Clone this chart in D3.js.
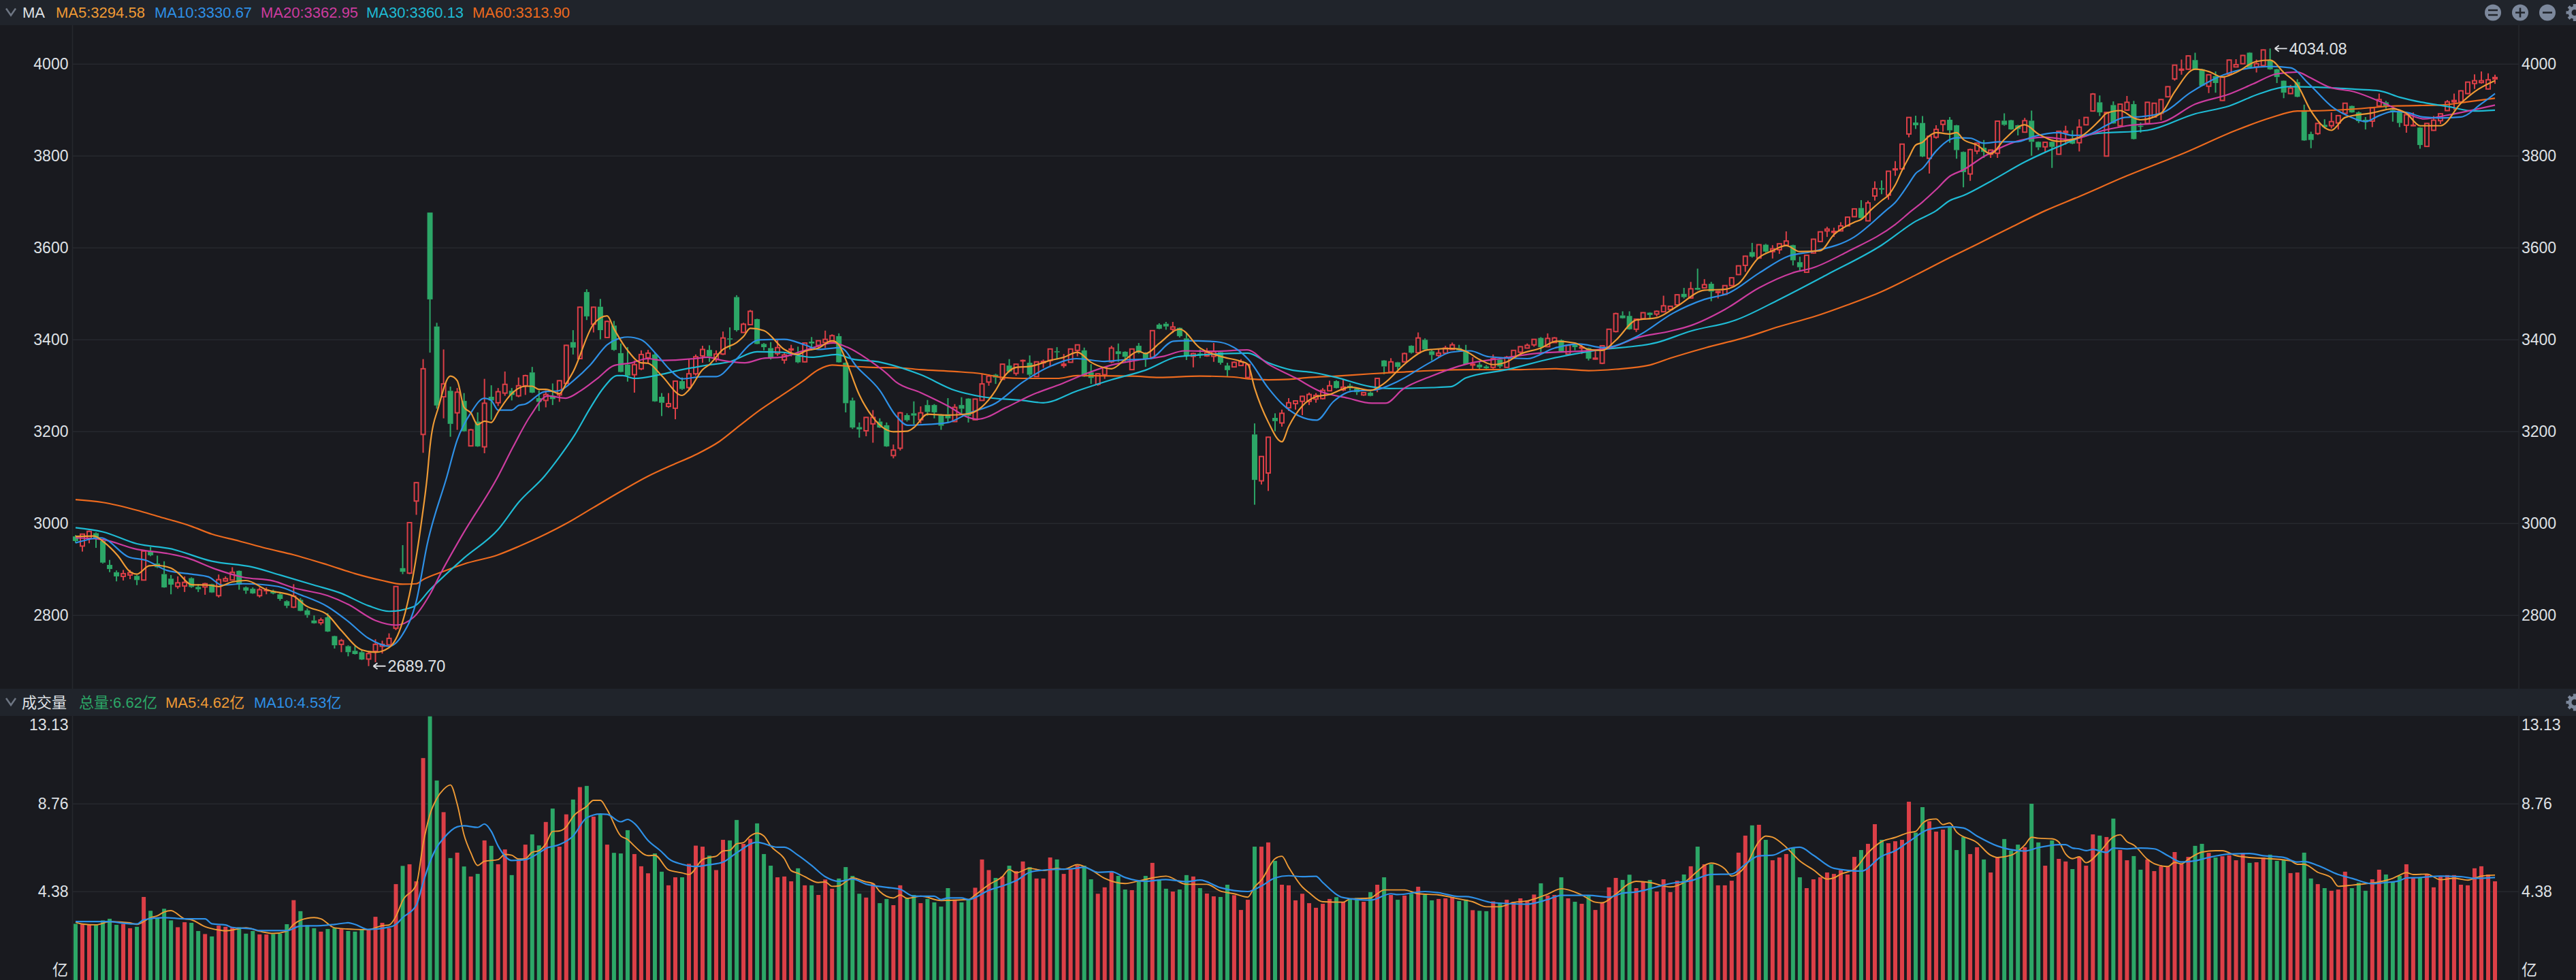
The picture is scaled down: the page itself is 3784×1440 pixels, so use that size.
<!DOCTYPE html>
<html><head><meta charset="utf-8"><title>K线</title>
<script src="https://cdn.jsdelivr.net/npm/d3@7/dist/d3.min.js"></script>
<style>
html,body{margin:0;padding:0;background:#191a1f;overflow:hidden}
svg{display:block}
text{font-family:"Liberation Sans","Noto Sans CJK SC",sans-serif}
</style></head><body>
<svg id="c" width="3784" height="1440"></svg>
<script>
const opens=[
2972,2951,2968,2979,2962,2910,2894,2885,2888,2886,
2877,2940,2913,2890,2880,2863,2864,2881,2862,2862,
2868,2843,2875,2877,2897,2861,2858,2843,2854,2853,
2846,2831,2818,2834,2811,2789,2784,2796,2755,2737,
2733,2723,2720,2705,2722,2733,2736,2772,2903,2892,
3049,3194,3677,3429,3276,3289,3241,3267,3169,3222,
3167,3276,3263,3284,3289,3278,3300,3329,3273,3268,
3278,3280,3305,3395,3359,3504,3434,3472,3405,3431,
3371,3346,3324,3337,3361,3368,3276,3255,3251,3310,
3296,3326,3365,3378,3357,3369,3403,3493,3416,3433,
3445,3391,3382,3370,3356,3378,3365,3352,3396,3388,
3394,3395,3408,3350,3268,3210,3202,3217,3222,3214,
3148,3164,3236,3240,3226,3258,3258,3236,3238,3222,
3258,3272,3226,3268,3308,3324,3314,3344,3327,3354,
3350,3320,3350,3355,3375,3344,3351,3377,3377,3329,
3303,3324,3352,3375,3374,3335,3387,3372,3362,3433,
3435,3423,3426,3403,3364,3370,3365,3364,3373,3344,
3341,3344,3318,3194,3093,3110,3230,3219,3252,3261,
3266,3266,3271,3272,3289,3310,3291,3300,3294,3280,
3285,3295,3355,3330,3351,3352,3387,3372,3400,3375,
3366,3371,3379,3382,3375,3345,3346,3342,3340,3357,
3340,3363,3373,3382,3389,3404,3385,3394,3399,3369,
3389,3382,3382,3358,3349,3384,3418,3453,3452,3423,
3446,3459,3456,3461,3466,3476,3500,3491,3513,3513,
3522,3503,3499,3518,3542,3562,3591,3578,3607,3592,
3596,3606,3606,3569,3547,3589,3614,3637,3634,3637,
3648,3668,3687,3659,3713,3730,3715,3770,3772,3848,
3873,3872,3795,3841,3869,3879,3867,3809,3761,3811,
3818,3804,3806,3877,3878,3867,3852,3877,3831,3820,
3831,3804,3851,3838,3829,3868,3898,3917,3800,3911,
3866,3900,3913,3866,3871,3885,3893,3929,3968,3987,
3989,4009,3989,3952,3974,3921,3978,3994,4001,4025,
3994,3997,4009,3989,3964,3936,3961,3900,3848,3849,
3868,3866,3872,3893,3909,3895,3879,3876,3909,3917,
3900,3898,3867,3866,3862,3821,3856,3877,3899,3918,
3918,3936,3958,3960,3946,3968];
const closes=[
2962,2977,2983,2967,2915,2901,2885,2891,2893,2877,
2940,2931,2905,2861,2867,2871,2872,2862,2857,2869,
2850,2878,2880,2894,2867,2854,2848,2856,2855,2848,
2836,2821,2842,2810,2801,2783,2790,2765,2735,2745,
2720,2716,2704,2717,2737,2737,2750,2863,2895,3002,
3089,3337,3488,3257,3304,3217,3286,3201,3204,3168,
3262,3268,3287,3303,3280,3300,3322,3285,3265,3281,
3271,3311,3388,3383,3471,3451,3471,3421,3440,3378,
3330,3322,3346,3368,3371,3266,3263,3261,3310,3293,
3326,3363,3379,3364,3369,3404,3401,3421,3434,3462,
3391,3384,3360,3383,3367,3380,3351,3393,3392,3398,
3401,3409,3351,3262,3209,3205,3231,3231,3209,3168,
3160,3241,3225,3235,3241,3243,3242,3213,3229,3253,
3250,3235,3271,3304,3321,3318,3347,3331,3347,3355,
3324,3352,3353,3380,3373,3347,3380,3389,3320,3317,
3326,3340,3382,3369,3363,3380,3372,3358,3420,3424,
3429,3428,3408,3366,3370,3368,3372,3374,3350,3334,
3351,3352,3346,3095,3146,3188,3223,3240,3263,3267,
3277,3281,3279,3290,3300,3295,3297,3295,3286,3285,
3278,3316,3342,3352,3341,3370,3372,3404,3379,3367,
3371,3382,3389,3377,3347,3347,3340,3338,3359,3342,
3362,3377,3385,3388,3401,3384,3403,3404,3375,3388,
3384,3384,3359,3360,3387,3423,3457,3447,3423,3445,
3459,3454,3462,3474,3473,3498,3493,3511,3509,3520,
3505,3505,3518,3535,3561,3582,3581,3607,3592,3598,
3609,3615,3573,3558,3584,3619,3635,3641,3636,3648,
3667,3685,3665,3698,3729,3727,3767,3772,3826,3884,
3867,3799,3843,3858,3877,3856,3813,3765,3814,3828,
3809,3813,3876,3868,3858,3859,3877,3831,3819,3830,
3820,3854,3854,3827,3863,3884,3935,3895,3895,3871,
3913,3917,3837,3865,3917,3915,3923,3951,3998,3989,
4018,3988,3953,3977,3959,3972,4009,3999,4019,3992,
4001,4031,3989,3972,3938,3948,3929,3834,3835,3871,
3863,3875,3888,3915,3895,3876,3874,3905,3923,3909,
3899,3872,3890,3867,3824,3871,3878,3892,3918,3921,
3942,3961,3964,3964,3966,3971];
const highs=[
2975,2978,2985,2981,2965,2921,2898,2899,2899,2888,
2942,2949,2930,2918,2888,2885,2885,2883,2868,2871,
2869,2889,2885,2905,2898,2863,2861,2861,2861,2856,
2851,2833,2868,2838,2815,2800,2795,2805,2756,2749,
2735,2735,2725,2722,2748,2745,2761,2864,2953,3003,
3090,3358,3677,3437,3379,3298,3295,3284,3206,3242,
3315,3301,3295,3331,3295,3318,3324,3341,3290,3290,
3305,3312,3389,3421,3472,3510,3472,3489,3442,3441,
3392,3384,3355,3377,3378,3372,3284,3284,3311,3318,
3359,3368,3387,3388,3377,3418,3427,3497,3437,3465,
3446,3393,3395,3399,3372,3389,3385,3394,3406,3399,
3420,3412,3414,3351,3274,3220,3232,3247,3229,3220,
3172,3243,3240,3266,3255,3269,3260,3238,3273,3260,
3275,3273,3272,3325,3325,3326,3348,3358,3348,3357,
3366,3353,3357,3381,3384,3369,3381,3390,3383,3347,
3327,3341,3387,3392,3375,3381,3393,3373,3421,3436,
3439,3439,3427,3415,3372,3379,3382,3393,3375,3350,
3353,3358,3347,3218,3147,3189,3240,3248,3273,3268,
3278,3285,3284,3295,3311,3312,3313,3305,3295,3286,
3287,3317,3356,3360,3352,3372,3388,3416,3403,3378,
3380,3387,3394,3389,3389,3362,3352,3345,3368,3358,
3365,3378,3386,3392,3402,3406,3414,3406,3401,3389,
3393,3389,3383,3377,3388,3424,3459,3462,3462,3446,
3460,3460,3464,3496,3474,3499,3513,3526,3555,3532,
3526,3506,3519,3536,3562,3583,3611,3608,3609,3606,
3610,3636,3607,3581,3585,3620,3636,3646,3644,3656,
3668,3686,3704,3703,3745,3747,3768,3789,3827,3885,
3888,3887,3844,3867,3879,3885,3868,3810,3816,3829,
3835,3814,3877,3893,3879,3868,3883,3899,3832,3831,
3832,3855,3866,3856,3880,3885,3937,3932,3896,3919,
3914,3931,3920,3873,3918,3916,3924,3952,3999,4010,
4019,4025,3990,3978,3984,3973,4010,4011,4020,4026,
4010,4032,4034.08,3990,3965,3955,3967,3912,3853,3872,
3880,3895,3889,3916,3910,3897,3885,3906,3936,3920,
3903,3899,3891,3895,3863,3872,3887,3893,3922,3936,
3943,3962,3978,3984,3980,3977];
const lows=[
2958,2939,2957,2947,2913,2894,2874,2876,2879,2866,
2876,2929,2903,2860,2846,2858,2851,2860,2851,2845,
2849,2839,2873,2876,2856,2847,2847,2839,2846,2846,
2832,2816,2816,2809,2795,2782,2779,2764,2728,2720,
2711,2715,2703,2689.7,2698,2717,2735,2768,2890,2890,
3019,3154,3372,3250,3229,3189,3204,3200,3168,3167,
3153,3226,3256,3278,3268,3275,3280,3284,3245,3253,
3258,3265,3304,3368,3358,3443,3416,3401,3404,3376,
3329,3309,3285,3334,3350,3265,3234,3252,3227,3291,
3290,3322,3350,3352,3352,3367,3379,3418,3415,3432,
3390,3377,3357,3365,3348,3364,3349,3351,3377,3379,
3382,3394,3350,3242,3206,3187,3190,3176,3208,3167,
3142,3159,3222,3216,3218,3235,3229,3204,3220,3221,
3236,3220,3225,3267,3300,3304,3313,3329,3322,3327,
3320,3319,3339,3341,3357,3339,3350,3364,3319,3304,
3300,3315,3349,3352,3350,3334,3370,3341,3361,3423,
3422,3415,3405,3356,3340,3360,3363,3352,3346,3320,
3340,3343,3317,3041,3085,3071,3201,3211,3245,3248,
3236,3258,3263,3270,3288,3294,3288,3290,3280,3278,
3277,3286,3325,3329,3335,3351,3370,3371,3378,3355,
3362,3370,3378,3375,3346,3335,3335,3336,3337,3338,
3339,3362,3365,3381,3385,3373,3384,3393,3373,3365,
3377,3369,3355,3357,3347,3383,3416,3446,3422,3417,
3445,3448,3451,3460,3465,3475,3490,3490,3508,3512,
3484,3490,3498,3517,3541,3548,3579,3577,3590,3577,
3587,3605,3562,3550,3546,3588,3613,3624,3624,3636,
3647,3667,3664,3658,3703,3717,3705,3757,3771,3841,
3859,3798,3762,3838,3853,3829,3794,3732,3746,3804,
3796,3796,3796,3866,3857,3845,3851,3801,3813,3808,
3774,3803,3825,3826,3810,3867,3897,3887,3799,3870,
3865,3899,3836,3851,3870,3884,3878,3928,3964,3977,
3988,3987,3952,3937,3938,3920,3977,3993,4000,3990,
3982,3996,3988,3959,3926,3935,3928,3833,3817,3846,
3860,3860,3858,3892,3894,3872,3858,3863,3908,3903,
3875,3863,3851,3865,3816,3820,3855,3870,3898,3900,
3917,3935,3946,3958,3945,3957];
const volumes=[
2.78,2.75,2.75,2.72,2.95,3.03,2.73,2.77,2.56,2.63,
4.12,3.43,3.09,3.53,2.95,2.61,2.86,2.83,2.42,2.27,
2.15,2.69,2.63,2.60,2.61,2.29,2.42,2.25,2.25,2.27,
2.29,2.76,3.96,3.41,2.72,2.56,2.39,2.52,2.56,2.52,
2.42,2.39,2.49,2.47,3.13,2.83,2.56,4.76,5.67,5.75,
4.90,11.05,13.13,9.93,8.35,6.06,6.33,5.64,5.14,5.27,
6.94,6.67,5.75,6.49,5.21,5.98,6.73,7.24,6.69,7.86,
8.53,6.63,8.24,8.98,9.60,9.66,8.13,8.24,6.73,6.32,
6.29,7.45,6.26,5.65,5.30,6.29,5.38,4.70,5.10,5.10,
5.77,6.68,6.63,6.18,5.46,6.97,6.94,7.96,6.77,7.02,
7.79,6.26,5.68,5.10,5.14,4.90,5.55,4.70,4.70,4.22,
4.99,4.53,5.04,5.61,5.17,4.28,4.09,4.79,3.81,4.02,
3.71,4.70,4.07,4.22,3.81,4.02,3.85,3.64,4.56,3.99,
3.85,4.02,4.58,5.99,5.46,5.07,5.14,5.68,5.41,5.89,
5.61,5.04,5.04,6.09,5.99,5.27,5.50,5.69,5.68,5.00,
4.28,4.60,5.41,5.17,4.49,4.46,4.90,5.17,5.82,5.00,
4.53,4.39,4.49,5.21,5.14,4.56,4.29,4.15,4.12,4.73,
4.21,3.47,3.98,6.63,6.63,6.84,5.92,4.73,4.70,3.95,
4.28,3.81,3.58,3.78,4.02,4.11,3.88,4.05,4.07,3.88,
4.36,4.73,5.10,4.22,3.98,4.19,4.28,4.63,4.22,3.95,
4.02,4.05,4.11,3.92,3.99,3.46,3.43,3.41,3.90,3.83,
3.98,3.88,4.05,3.94,4.24,4.80,4.19,4.22,5.10,4.05,
3.88,3.78,4.22,3.47,3.83,4.60,5.07,4.97,5.23,4.56,
4.90,4.97,4.39,5.00,4.36,4.93,5.24,5.65,6.63,5.75,
5.75,4.70,4.70,4.93,6.33,7.18,7.69,7.72,6.97,5.95,
6.09,6.26,6.56,5.10,4.56,5.00,5.10,5.34,5.27,5.46,
5.24,6.12,6.46,6.77,7.75,6.97,6.80,6.90,6.97,8.87,
7.33,8.60,7.90,7.38,7.48,7.65,6.46,7.11,6.26,6.60,
5.99,5.34,6.09,7.01,6.43,6.73,6.60,8.77,6.84,5.68,
6.94,6.02,5.89,5.51,6.09,5.68,7.24,7.18,7.11,8.03,
6.46,5.95,6.16,5.48,5.99,5.41,5.65,5.64,6.36,5.75,
6.12,6.67,6.77,6.32,6.09,6.15,6.20,5.95,6.32,5.82,
5.85,6.09,6.23,5.92,5.98,5.31,5.34,6.33,5.04,4.76,
4.56,4.43,4.49,5.38,4.56,4.83,4.43,5.00,5.48,5.24,
4.90,5.18,5.75,5.07,5.10,5.24,4.60,5.13,5.21,5.21,
4.73,4.70,5.55,5.65,5.24,4.90];
// days whose volume bar is red although the candle body closed lower
const volumeRedOverride=[326];

// moving averages as [day, value]
const ma5=[[0,2972],[2.7,2973],[4.2,2959],[6.2,2930],[8,2895],[9,2890],[10.8,2908],[11.8,2909],[14,2903],[15,2893],[17,2867],[19.5,2866],[21,2863],[23,2873],[25,2876],[28,2856],[32,2842],[33.8,2821],[37,2801],[39,2767],[42,2725],[44,2720],[46,2730],[48,2787],[49.3,2868],[50.8,3009],[51.6,3103],[52,3167],[53.3,3256],[55,3321],[56,3311],[57,3253],[58,3241],[59,3215],[60,3223],[61,3220],[62,3243],[64,3283],[66,3299],[67,3299],[68,3292],[69,3292],[71,3283],[72,3305],[73,3330],[76,3434],[78,3452],[79,3424],[81,3377],[83,3350],[84,3349],[86,3322],[89,3279],[90,3291],[92,3335],[93,3346],[95,3379],[97,3394],[98,3407],[99,3425],[101,3420],[104,3379],[106,3368],[107,3375],[109,3382],[111,3398],[112,3389],[113,3357],[115,3280],[117,3231],[120,3200],[122,3201],[123,3209],[125,3238],[128,3236],[131,3239],[135,3290],[136,3315],[138,3340],[140,3342],[143,3355],[145,3362],[147,3373],[149,3351],[151,3339],[152,3337],[154,3357],[156,3375],[157,3370],[159,3392],[162,3423],[165,3382],[168,3364],[171,3353],[172,3347],[173,3295],[175,3221],[177,3178],[178,3211],[180,3256],[182,3276],[184,3281],[187,3297],[190,3290],[192,3305],[195,3347],[198,3377],[199,3379],[202,3381],[204,3375],[206,3357],[208,3346],[210,3352],[212,3369],[215,3382],[217.3,3397],[220,3393],[222,3379],[224,3377],[226,3399],[229,3443],[232,3448],[235,3473],[239,3508],[242,3510],[244,3522],[247,3579],[249,3594],[251,3605],[253,3592],[256,3594],[258,3629],[261,3656],[262,3662],[263.6,3685],[265,3703],[266,3715],[267,3737],[268,3769],[269,3797],[270,3824],[271,3830],[272,3844],[273,3851],[275,3848],[276,3851],[277,3836],[279,3824],[281,3805],[283,3836],[286,3868],[288,3848],[291,3832],[294,3841],[297,3878],[298,3893],[300,3899],[302,3883],[303,3879],[306,3893],[308,3940],[311,3989],[313,3984],[315,3972],[317,3982],[320,4006],[322,4009],[324,3982],[326,3955],[328,3898],[331,3856],[333,3884],[337,3894],[340,3903],[342,3893],[344,3866],[347,3866],[350,3915],[352,3940],[355,3964]];
const ma10=[[0,2958],[3.7,2969],[7.8,2927],[10.3,2920],[13.4,2898],[17,2890],[19.5,2884],[21.5,2866],[24.6,2869],[29.7,2863],[32.8,2846],[37,2819],[40,2787],[43,2750],[46,2733],[48,2759],[50,2831],[51.6,2955],[54.5,3103],[56,3182],[58,3241],[60,3273],[61,3268],[62,3247],[64,3247],[65,3257],[66,3260],[68.8,3287],[70.9,3289],[73.2,3313],[75.5,3345],[78,3389],[80,3404],[81,3406],[83,3400],[85.2,3369],[87.2,3335],[89,3315],[92,3320],[94,3320],[96.9,3357],[98.9,3389],[100.2,3400],[104,3401],[107,3389],[109,3379],[112.2,3383],[114.7,3340],[118,3290],[120.3,3236],[122.1,3214],[124,3215],[128,3220],[131,3240],[135,3262],[139,3308],[143.3,3344],[146.9,3359],[151,3353],[153.5,3356],[157.6,3359],[161.1,3397],[162.7,3398],[167.3,3396],[172.1,3357],[175,3295],[177,3261],[182.1,3225],[184.6,3266],[187.2,3288],[190.7,3291],[193.8,3308],[198.8,3351],[201.8,3373],[204.6,3376],[207.4,3363],[213,3359],[217,3382],[220.6,3391],[224.2,3383],[229.3,3409],[234.4,3458],[239,3488],[242.6,3502],[247,3545],[251.3,3582],[254.8,3592],[261,3624],[265.6,3681],[267,3699],[269,3740],[270,3762],[271,3773],[273,3811],[275,3836],[276,3840],[278,3839],[280,3828],[282.3,3831],[284.8,3831],[287.4,3843],[291,3851],[293,3845],[295,3846],[298,3867],[300.6,3884],[303.2,3886],[306.3,3895],[310.3,3938],[314.4,3972],[318,3989],[322,3995],[325,3992],[327.7,3957],[331.3,3905],[333.8,3885],[336,3875],[338,3888],[340,3897],[342,3895],[344.4,3885],[347,3883],[350,3885],[353,3914],[355,3936]];
const ma20=[[0,2969],[4,2965],[9,2944],[13.4,2935],[16.4,2925],[20.5,2901],[24.6,2883],[29,2875],[32,2860],[37,2843],[40,2824],[44,2789],[47,2779],[49.6,2796],[52,2846],[53.7,2895],[56.7,2974],[62,3103],[64.2,3167],[66.8,3236],[69.3,3278],[71.9,3273],[74,3288],[76.5,3315],[79,3344],[81.6,3350],[83.9,3359],[86.2,3355],[90.8,3359],[92.8,3362],[94.9,3355],[98.2,3350],[101,3360],[103.5,3362],[106.6,3375],[111.2,3393],[113.2,3384],[116.3,3357],[119,3327],[120.4,3308],[124,3285],[128,3256],[131,3231],[132.3,3227],[136.6,3253],[140,3278],[144.8,3305],[148.4,3327],[152,3345],[155.5,3355],[159.6,3364],[162.7,3376],[167.3,3375],[171.9,3378],[175,3347],[179,3317],[182.6,3288],[186.7,3273],[190.2,3262],[192.2,3262],[194.8,3293],[198.8,3320],[204,3347],[209,3359],[215.5,3372],[220.6,3375],[225,3382],[229,3404],[234,3419],[237,3431],[242,3466],[247,3513],[251.8,3545],[255,3557],[260,3592],[267,3651],[269.4,3681],[271,3700],[273,3727],[275,3756],[277,3770],[280,3799],[285.3,3834],[289,3841],[292.5,3836],[297.6,3856],[301,3866],[306,3873],[311,3913],[316,3935],[319.5,3957],[323,3979],[326,3983],[327.7,3972],[330.7,3950],[334.3,3940],[338.4,3917],[342,3893],[344.6,3881],[348,3889],[352,3901],[355,3911]];
const ma30=[[0,2991],[4,2982],[9,2956],[14,2945],[20,2918],[26,2905],[30,2888],[35,2866],[39,2848],[43,2821],[46,2809],[49.6,2819],[52,2856],[57,2925],[62,2987],[65,3046],[68.8,3103],[71,3145],[73.2,3192],[75.5,3251],[77.5,3296],[79.5,3322],[80.3,3322],[82,3316],[85.7,3324],[89,3335],[92.8,3345],[95.9,3352],[100,3374],[103.5,3373],[108,3362],[111.7,3368],[114,3358],[117.8,3352],[119,3348],[124,3324],[129,3290],[133,3276],[139,3268],[142,3263],[147,3289],[152,3313],[157,3334],[161.7,3363],[165,3367],[172,3371],[175,3350],[178.5,3334],[181.5,3329],[185,3318],[190,3298],[192.8,3294],[199,3296],[201.8,3298],[204,3317],[210,3335],[216.5,3359],[223,3377],[232,3394],[237,3419],[243.6,3443],[250,3488],[257,3542],[265,3606],[270,3658],[273,3681],[275,3703],[277,3714],[281,3745],[286,3787],[291,3821],[296,3848],[304,3856],[311,3892],[316,3909],[320.5,3936],[324.6,3951],[329,3950],[335,3945],[338,3942],[341,3928],[345,3915],[348,3908],[352,3898],[355,3900]];
const ma60=[[0,3052],[4,3046],[9,3029],[12,3016],[17,2994],[20,2977],[24,2962],[28,2946],[32,2932],[37,2910],[41,2891],[45,2876],[48,2868],[50,2869],[51,2878],[54,2896],[57,2912],[62,2932],[65,2950],[69,2977],[72,3000],[76,3035],[80,3070],[84,3103],[87.5,3127],[91,3150],[94.5,3179],[97.5,3214],[100.5,3248],[103,3273],[106.7,3310],[109,3335],[111,3345],[113,3343],[117,3340],[121,3339],[124,3335],[129,3331],[133,3326],[136,3318],[139,3316],[144,3316],[147,3322],[155,3321],[159,3318],[165,3321],[170,3319],[172,3315],[175,3313],[178,3314],[181,3318],[185,3321],[190,3326],[195,3330],[199,3333],[205,3335],[211.5,3335],[217,3337],[222,3333],[226,3336],[231,3345],[234,3360],[239,3382],[245,3405],[250,3429],[255,3450],[260,3476],[265,3505],[270,3541],[275,3579],[279,3608],[284,3645],[289,3681],[294,3712],[301,3757],[309.3,3806],[317,3856],[322,3883],[326,3898],[330,3899],[335,3903],[340,3909],[347,3911],[351,3918],[355,3926]];
const volMa5=[[0,2.86],[1,2.77],[3,2.73],[5,2.89],[8,2.83],[9,2.75],[11,3.09],[12,3.18],[13,3.37],[14,3.44],[16,3.03],[17,2.98],[19,2.64],[21,2.47],[22,2.43],[25,2.58],[27,2.41],[29,2.30],[31,2.41],[32,2.75],[33,2.96],[35,3.09],[36,3.03],[38,2.58],[41,2.50],[43,2.49],[45,2.69],[46,2.72],[47,3.15],[48,3.94],[50,4.73],[51,6.77],[52,8.24],[53,9.03],[54,9.49],[55,9.71],[56,8.75],[57,7.22],[58,6.32],[59,5.69],[60,5.90],[62,5.98],[63,6.24],[64,6.20],[65,6.01],[66,6.03],[67,6.35],[68,6.43],[69,6.77],[70,7.39],[71,7.41],[72,7.62],[73,8.13],[75,8.64],[76,8.94],[77,8.94],[78,8.47],[80,7.16],[81,6.99],[82,6.66],[84,6.18],[85,6.20],[87,5.47],[89,5.32],[90,5.24],[92,5.98],[93,6.09],[94,6.15],[95,6.41],[96,6.45],[97,6.77],[98,6.83],[99,7.16],[100,7.30],[101,7.16],[102,6.66],[104,6.03],[105,5.43],[106,5.30],[107,5.13],[109,4.84],[110,4.87],[111,4.65],[112,4.67],[114,5.07],[116,4.87],[117,4.79],[118,4.39],[120,4.07],[121,4.22],[122,4.05],[124,4.16],[127,3.94],[131,3.99],[132,4.22],[134,4.73],[136,5.14],[137,5.49],[138,5.32],[140,5.55],[142,5.44],[144,5.55],[145,5.50],[147,5.73],[149,5.47],[151,5.05],[154,4.79],[156,4.92],[158,5.07],[160,5.16],[163,4.75],[166,4.75],[168,4.41],[170,4.28],[172,4.11],[173,4.62],[174,4.96],[176,6.03],[177,6.15],[178,5.60],[180,4.62],[181,4.33],[183,3.88],[186,3.86],[187,4.02],[190,4.07],[191,4.28],[192,4.47],[195,4.47],[197,4.28],[200,4.22],[203,4.02],[205,3.88],[207,3.63],[209,3.63],[211,3.85],[213,3.92],[216,4.26],[218,4.53],[221,4.22],[223,3.86],[224,3.83],[226,4.26],[228,4.79],[229,4.90],[231,4.84],[234,4.62],[236,4.84],[238,5.41],[239,5.69],[240,5.81],[242,5.52],[243,5.16],[244,5.30],[245,5.64],[247,6.88],[248,7.16],[249,7.10],[251,6.60],[253,5.92],[255,5.47],[257,5.01],[258,5.07],[259,5.26],[261,5.50],[263,6.32],[265,6.88],[267,7.09],[269,7.33],[270,7.39],[271,7.79],[272,7.98],[273,8.01],[274,7.73],[275,7.81],[276,7.36],[279,6.83],[281,6.20],[282,6.09],[284,6.20],[286,6.71],[287,7.10],[288,7.05],[290,7.02],[291,6.86],[292,6.26],[293,6.03],[294,6.12],[295,5.83],[297,6.37],[299,7.11],[300,7.22],[301,6.88],[302,6.71],[304,6.00],[305,5.78],[307,5.64],[308,5.84],[309,5.77],[310,6.00],[312,6.36],[314,6.43],[315,6.43],[317,6.18],[319,6.09],[322,6.03],[325,5.92],[326,5.75],[327,5.75],[329,5.35],[331,5.07],[332,4.65],[334,4.71],[336,4.78],[338,4.87],[340,5.05],[341,5.21],[342,5.33],[343,5.24],[345,5.26],[347,4.98],[349,5.05],[351,4.96],[353,5.16],[355,5.21]];
const volMa10=[[0,2.89],[5,2.89],[7,2.81],[9,2.77],[10,2.98],[13,3.09],[16,3.03],[19,3.03],[20,2.78],[22,2.72],[23,2.60],[26,2.52],[27,2.44],[31,2.44],[33,2.67],[36,2.69],[38,2.75],[40,2.83],[41,2.75],[43,2.50],[46,2.61],[47,2.75],[48,3.09],[50,3.71],[51,4.84],[52,5.86],[53,6.60],[54,7.05],[56,7.62],[57,7.67],[59,7.59],[60,7.76],[61,7.39],[62,6.66],[64,5.94],[66,5.98],[68,6.32],[69,6.54],[71,6.73],[73,7.16],[75,8.07],[77,8.26],[78,8.24],[80,7.87],[81,7.99],[82,7.79],[84,6.94],[86,6.37],[87,6.03],[89,5.75],[91,5.64],[93,5.73],[95,5.86],[97,6.32],[100,6.85],[103,6.60],[104,6.60],[106,6.20],[108,5.69],[110,5.13],[112,4.90],[114,5.01],[116,4.76],[119,4.60],[121,4.50],[123,4.16],[126,4.16],[127,3.99],[128,4.07],[130,4.07],[131,3.99],[134,4.45],[136,4.67],[138,4.93],[140,5.35],[142,5.46],[144,5.50],[146,5.52],[148,5.60],[150,5.35],[152,5.38],[154,5.09],[157,4.90],[160,4.99],[163,4.88],[165,4.96],[168,4.58],[172,4.39],[174,4.67],[176,5.07],[178,5.18],[180,5.13],[182,5.15],[183,4.84],[186,4.09],[190,3.96],[193,4.28],[194,4.24],[198,4.39],[200,4.33],[203,4.14],[204,4.14],[208,3.83],[213,3.76],[216,3.99],[218,4.20],[222,4.20],[225,4.11],[227,4.31],[229,4.37],[232,4.62],[234,4.79],[237,4.93],[240,5.24],[243,5.26],[245,5.75],[247,6.17],[249,6.20],[251,6.49],[253,6.60],[255,6.20],[258,5.55],[262,5.41],[265,6.15],[267,6.43],[269,6.88],[272,7.50],[275,7.62],[277,7.56],[279,7.16],[282,6.66],[286,6.41],[288,6.58],[291,6.73],[292,6.73],[293,6.56],[294,6.52],[295,6.43],[296,6.49],[298,6.34],[299,6.56],[301,6.52],[303,6.56],[305,6.52],[307,6.18],[309,5.86],[311,5.92],[313,6.09],[316,6.26],[319,6.29],[321,6.18],[324,6.09],[326,5.86],[327,5.89],[329,5.69],[332,5.24],[334,5.05],[337,4.78],[339,4.84],[341,4.93],[342,5.07],[344,5.09],[347,5.16],[350,5.13],[352,5.05],[355,5.09]];

const priceTicks=[2800,3000,3200,3400,3600,3800,4000];
const volumeTicks=[4.38,8.76,13.13];
const maLegend=[["MA5:3294.58","ma5"],["MA10:3330.67","ma10"],["MA20:3362.95","ma20"],["MA30:3360.13","ma30"],["MA60:3313.90","ma60"]];
const volLegend=[["总量:6.62亿","vol"],["MA5:4.62亿","ma5"],["MA10:4.53亿","ma10"]];

const W=3784,H=1440;
const C={bg:"#191a1f",head:"#20242b",grid:"#26282e",text:"#dfe1e5",red:"#dc3f47",green:"#2ca767",ma5:"#ee9a35",ma10:"#2e90e6",ma20:"#cc3c9f",ma30:"#1fbbd4",ma60:"#ec6a1e",vol:"#2ca767",chev:"#6e7683",icon:"#7c889c",iconDark:"#20242b"};
const L=106.5,R=3700;
const legendX={ma5:82,ma10:227,ma20:383,ma30:538,ma60:694};

const days=d3.range(opens.length);
const x=d3.scaleLinear().domain([0,355]).range([111,3665]);
const yP=d3.scaleLinear().domain([2800,4000]).range([904.3,94.3]);
const yV=d3.scaleLinear().domain([0,13.13]).range([1439.3,1052.6]);
const svg=d3.select("#c");
svg.append("rect").attr("width",W).attr("height",H).attr("fill",C.bg);

const defs=svg.append("defs");
defs.append("clipPath").attr("id","pp").append("rect").attr("x",L).attr("y",37).attr("width",R-L).attr("height",975);
defs.append("clipPath").attr("id","vp").append("rect").attr("x",L).attr("y",1052).attr("width",R-L).attr("height",388);

// axes and grid
function axis(gen,scale,xPos,ticks,fmt,side){
  const g=svg.append("g").attr("transform",`translate(${xPos},0)`)
    .call(gen(scale).tickValues(ticks).tickSize(0).tickPadding(side==="l"?6:4).tickFormat(fmt));
  g.select(".domain").remove();
  g.selectAll("text").attr("fill",C.text).style("font-size","23px").style("font-family",'"Liberation Sans",sans-serif');
  return g;
}
const grid=svg.append("g");
grid.selectAll("line.p").data(priceTicks).join("line").attr("class","p")
  .attr("x1",L).attr("x2",R).attr("y1",d=>yP(d)).attr("y2",d=>yP(d)).attr("stroke",C.grid).attr("stroke-width",1.5);
grid.selectAll("line.v").data(volumeTicks.slice(0,2)).join("line").attr("class","v")
  .attr("x1",L).attr("x2",R).attr("y1",d=>yV(d)).attr("y2",d=>yV(d)).attr("stroke",C.grid).attr("stroke-width",1.5);
[L,R].forEach(px=>svg.append("line").attr("x1",px).attr("x2",px).attr("y1",37).attr("y2",H).attr("stroke",C.grid).attr("stroke-width",1.5));

axis(d3.axisLeft,yP,L,priceTicks,d=>d,"l");
axis(d3.axisRight,yP,R,priceTicks,d=>d,"r");
const fmtV=d=>d.toFixed(2);
[axis(d3.axisLeft,yV,L,volumeTicks,fmtV,"l"),axis(d3.axisRight,yV,R,volumeTicks,fmtV,"r")]
  .forEach(g=>g.selectAll(".tick").filter(d=>d===13.13).select("text").attr("dy","0.88em"));
svg.append("text").attr("x",100).attr("y",1433).attr("text-anchor","end").attr("fill",C.text).style("font-size","23px").text("亿");
svg.append("text").attr("x",3704).attr("y",1433).attr("fill",C.text).style("font-size","23px").text("亿");

// candles
const isUp=i=>closes[i]>=opens[i];
const pane=svg.append("g").attr("clip-path","url(#pp)");
const cg=pane.selectAll("g.k").data(days).join("g").attr("class","k");
cg.append("line").attr("x1",i=>x(i)).attr("x2",i=>x(i))
  .attr("y1",i=>yP(highs[i])).attr("y2",i=>yP(Math.max(opens[i],closes[i])))
  .attr("stroke",i=>isUp(i)?C.red:C.green).attr("stroke-width",2);
cg.append("line").attr("x1",i=>x(i)).attr("x2",i=>x(i))
  .attr("y1",i=>yP(Math.min(opens[i],closes[i]))).attr("y2",i=>yP(lows[i]))
  .attr("stroke",i=>isUp(i)?C.red:C.green).attr("stroke-width",2);
cg.append("rect")
  .attr("x",i=>x(i)-(isUp(i)?3:4)).attr("width",i=>isUp(i)?6:8)
  .attr("y",i=>yP(Math.max(opens[i],closes[i])))
  .attr("height",i=>Math.max(isUp(i)?0.5:1.5,Math.abs(yP(opens[i])-yP(closes[i]))))
  .attr("fill",i=>isUp(i)?C.bg:C.green)
  .attr("stroke",i=>isUp(i)?C.red:"none").attr("stroke-width",i=>isUp(i)?2:0);

// price moving averages
const line=(sc)=>d3.line().x(d=>x(d[0])).y(d=>sc(d[1])).curve(d3.curveMonotoneX);
[[ma60,C.ma60],[ma30,C.ma30],[ma20,C.ma20],[ma10,C.ma10],[ma5,C.ma5]].forEach(([d,c])=>
  pane.append("path").datum(d).attr("d",line(yP)).attr("fill","none").attr("stroke",c)
   .attr("stroke-width",2.2).attr("stroke-linejoin","round"));

// high / low markers
const iMax=d3.maxIndex(highs),iMin=d3.minIndex(lows);
[[iMin,lows[iMin]],[iMax,highs[iMax]]].forEach(([i,v])=>{
  const sx=x(i)+6;
  const g=svg.append("g").attr("transform",`translate(${sx},${yP(v)})`);
  g.append("path").attr("d","M1 0H19M1 0l6 -4.5M1 0l6 4.5").attr("stroke",C.text).attr("stroke-width",1.8).attr("fill","none");
  g.append("text").attr("x",22).attr("y",0).attr("dy","0.35em").attr("fill",C.text).style("font-size","23.5px").text(v.toFixed(2));
});

// volume bars
const vp=svg.append("g").attr("clip-path","url(#vp)");
vp.selectAll("rect").data(days).join("rect")
  .attr("x",i=>x(i)-3).attr("width",6).attr("y",i=>yV(volumes[i])).attr("height",i=>yV(0)-yV(volumes[i])+1)
  .attr("fill",i=>(isUp(i)||volumeRedOverride.includes(i))?C.red:C.green);
vp.append("path").datum(volMa5).attr("d",line(yV)).attr("fill","none").attr("stroke",C.ma5).attr("stroke-width",1.9);
vp.append("path").datum(volMa10).attr("d",line(yV)).attr("fill","none").attr("stroke",C.ma10).attr("stroke-width",2.2);

// header bars
function header(y,h){
  svg.append("rect").attr("x",0).attr("y",y).attr("width",W).attr("height",h).attr("fill",C.head);
  const cy=y+h/2;
  svg.append("path").attr("d",`M9 ${cy-6}L16 ${cy+4}L23 ${cy-6}`).attr("fill","none").attr("stroke",C.chev).attr("stroke-width",2.5);
}
header(0,37);header(1012,40);
const ht=(t,px,py,c,fs)=>svg.append("text").attr("x",px).attr("y",py).attr("fill",c).style("font-size",(fs||22)+"px").text(t);
ht("MA",33,26,C.text);
svg.selectAll("text.mal").data(maLegend).join("text").attr("class","mal")
  .attr("x",d=>legendX[d[1]]).attr("y",26).attr("fill",d=>C[d[1]]).style("font-size","22px").text(d=>d[0]);
ht("成交量",32,1040,C.text,22);
const volLegendX={vol:116,ma5:243,ma10:373};
svg.selectAll("text.vl").data(volLegend).join("text").attr("class","vl")
  .attr("x",d=>volLegendX[d[1]]).attr("y",1040).attr("fill",d=>C[d[1]]).style("font-size","22px").text(d=>d[0]);

// toolbar icons
const cy0=18.5;
[3662,3702,3742].forEach(cx=>svg.append("circle").attr("cx",cx).attr("cy",cy0).attr("r",12).attr("fill",C.icon));
const ic=svg.append("g").attr("stroke",C.iconDark).attr("stroke-width",2.6).attr("fill","none");
ic.append("path").attr("d",`M3655 ${cy0-3.5}H3669M3655 ${cy0+3.5}H3669`);
ic.append("path").attr("d",`M3695 ${cy0}H3709M3702 ${cy0-7}V${cy0+7}`);
ic.append("path").attr("d",`M3735 ${cy0}H3749`);
[[3782,cy0],[3782,1032]].forEach(([gx,gy])=>{
  const g=svg.append("g").attr("transform",`translate(${gx},${gy})`);
  g.append("circle").attr("r",7).attr("fill","none").attr("stroke",C.icon).attr("stroke-width",5);
  d3.range(8).forEach(k=>g.append("rect").attr("x",-2.2).attr("y",-12.5).attr("width",4.4).attr("height",5).attr("fill",C.icon).attr("transform",`rotate(${k*45})`));
});
</script></body></html>
